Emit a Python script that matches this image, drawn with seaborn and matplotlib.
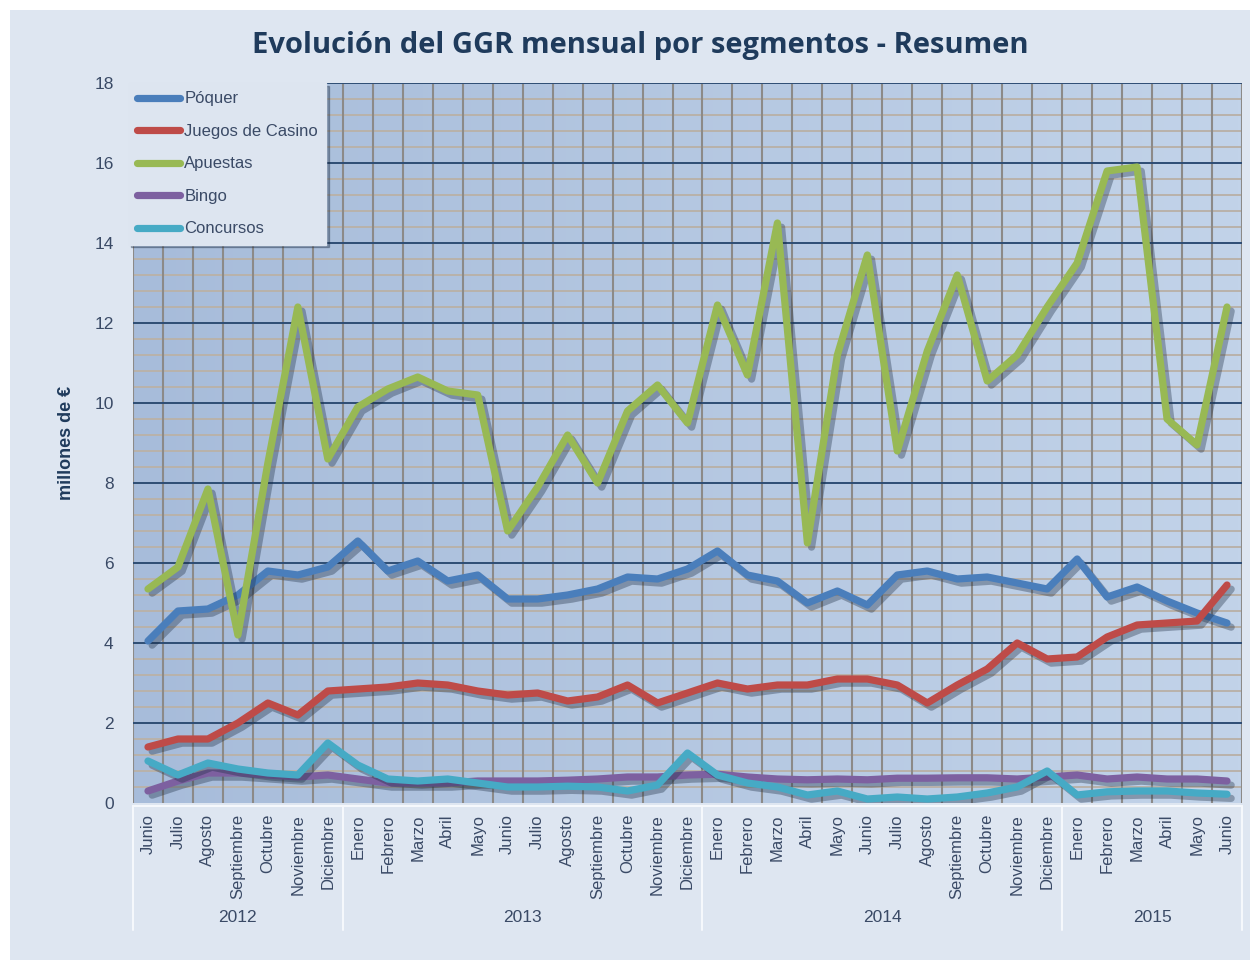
import numpy as np
import pandas as pd
import matplotlib
matplotlib.use("Agg")
import matplotlib.pyplot as plt
import matplotlib.patheffects as pe
from matplotlib.patches import Rectangle
from matplotlib.lines import Line2D
import seaborn as sns

# === DATA ===
meses = ["Junio", "Julio", "Agosto", "Septiembre", "Octubre", "Noviembre", "Diciembre",
         "Enero", "Febrero", "Marzo", "Abril", "Mayo", "Junio", "Julio", "Agosto",
         "Septiembre", "Octubre", "Noviembre", "Diciembre",
         "Enero", "Febrero", "Marzo", "Abril", "Mayo", "Junio", "Julio", "Agosto",
         "Septiembre", "Octubre", "Noviembre", "Diciembre",
         "Enero", "Febrero", "Marzo", "Abril", "Mayo", "Junio"]
anios = ["2012", "2013", "2014", "2015"]
meses_por_anio = [7, 12, 12, 6]

poquer = [4.05, 4.8, 4.85, 5.2, 5.8, 5.7, 5.9,
          6.55, 5.8, 6.05, 5.55, 5.7, 5.1, 5.1, 5.2, 5.35, 5.65, 5.6, 5.85,
          6.3, 5.7, 5.55, 5.0, 5.3, 4.95, 5.7, 5.8, 5.6, 5.65, 5.5, 5.35,
          6.1, 5.15, 5.4, 5.05, 4.75, 4.5]
casino = [1.4, 1.6, 1.6, 2.0, 2.5, 2.2, 2.8,
          2.85, 2.9, 3.0, 2.95, 2.8, 2.7, 2.75, 2.55, 2.65, 2.95, 2.5, 2.75,
          3.0, 2.85, 2.95, 2.95, 3.1, 3.1, 2.95, 2.5, 2.95, 3.35, 4.0, 3.6,
          3.65, 4.15, 4.45, 4.5, 4.55, 5.45]
apuestas = [5.35, 5.9, 7.85, 4.2, 8.5, 12.4, 8.6,
            9.9, 10.35, 10.65, 10.3, 10.2, 6.8, 7.9, 9.2, 8.0, 9.8, 10.45, 9.5,
            12.45, 10.7, 14.5, 6.5, 11.2, 13.7, 8.8, 11.3, 13.2, 10.55, 11.2, 12.4,
            13.5, 15.8, 15.9, 9.6, 8.95, 12.4]
bingo = [0.3, 0.55, 0.75, 0.75, 0.7, 0.65, 0.7,
         0.6, 0.5, 0.5, 0.5, 0.55, 0.55, 0.55, 0.57, 0.6, 0.65, 0.65, 0.7,
         0.72, 0.65, 0.6, 0.58, 0.6, 0.58, 0.62, 0.62, 0.63, 0.63, 0.6, 0.65,
         0.7, 0.6, 0.65, 0.6, 0.6, 0.55]
concursos = [1.05, 0.7, 1.0, 0.85, 0.75, 0.7, 1.5,
             0.95, 0.6, 0.55, 0.6, 0.5, 0.4, 0.4, 0.42, 0.4, 0.3, 0.45, 1.25,
             0.7, 0.5, 0.4, 0.2, 0.3, 0.1, 0.15, 0.1, 0.15, 0.25, 0.4, 0.8,
             0.2, 0.28, 0.3, 0.3, 0.25, 0.22]

series = {"Póquer": poquer, "Juegos de Casino": casino, "Apuestas": apuestas,
          "Bingo": bingo, "Concursos": concursos}
colores = {"Póquer": "#4a7ebb", "Juegos de Casino": "#be4b48", "Apuestas": "#98b954",
           "Bingo": "#7d60a0", "Concursos": "#46aac5"}


def main():
    sns.set_style("white")
    plt.rcParams["font.family"] = ["Liberation Sans", "DejaVu Sans"]

    n = len(meses)
    df = pd.concat([pd.DataFrame({"idx": range(n), "valor": v, "serie": k})
                    for k, v in series.items()], ignore_index=True)

    W, H = 1257, 965
    fig = plt.figure(figsize=(W / 100, H / 100), dpi=100, facecolor="white")
    # panel background
    fig.patches.append(Rectangle((10 / W, 5 / H), 1240 / W, 950 / H, transform=fig.transFigure,
                                 facecolor="#dee6f1", edgecolor="none", zorder=-10))

    left, right, top, bottom = 133, 1242, 83, 803
    ax = fig.add_axes([left / W, 1 - bottom / H, (right - left) / W, (bottom - top) / H])
    ax.set_facecolor("none")
    ax.set_zorder(1)

    # gradient background of the plot area
    grad = np.linspace(0, 1, 256).reshape(1, -1)
    cmap = matplotlib.colors.LinearSegmentedColormap.from_list("bg", ["#a7bcda", "#c2d3e9"])
    ax.imshow(grad, extent=[-0.5, n - 0.5, 0, 18], aspect="auto", cmap=cmap, zorder=0)

    # grid
    for y in np.arange(0.4, 18, 0.4):
        if abs(y / 2 - round(y / 2)) > 1e-6:
            ax.axhline(y, color="#b9b2aa", lw=1.4, zorder=1)
    for y in range(2, 19, 2):
        ax.axhline(y, color="#2e4d74", lw=1.4, zorder=2)
    for x in np.arange(-0.5, n, 1):
        ax.axvline(x, color="#8c8a88", lw=1.5, zorder=1.5)

    sns.lineplot(data=df, x="idx", y="valor", hue="serie", palette=colores,
                 linewidth=5.2, ax=ax, zorder=5, legend=False)
    for line in ax.get_lines()[-5:]:
        line.set_solid_capstyle("round")
        line.set_solid_joinstyle("round")
        line.set_path_effects([pe.SimpleLineShadow(offset=(3, -3), shadow_color="#1a2a40", alpha=0.35),
                               pe.Normal()])

    ax.set_xlim(-0.5, n - 0.5)
    ax.set_ylim(0, 18)
    ax.set_yticks(range(0, 19, 2))
    ax.set_yticklabels([str(v) for v in range(0, 19, 2)], fontsize=12.5, color="#3a4a66")
    ax.set_xticks(range(n))
    ax.set_xticklabels(meses, rotation=90, fontsize=12, color="#3a4a66", va="top")
    ax.tick_params(axis="both", length=0)
    ax.tick_params(axis="y", pad=14)
    ax.tick_params(axis="x", pad=8)
    ax.set_xlabel("")
    ax.set_ylabel("millones de €", fontsize=13, fontweight="bold", color="#1f3b5c", labelpad=14)
    for s in ax.spines.values():
        s.set_visible(False)

    # year separators and labels
    fig.add_artist(Line2D([left / W, right / W], [1 - 806 / H] * 2, color="#f5f8fc", lw=1.5))
    start = 0
    for anio, m in zip(anios, meses_por_anio):
        x0 = left + (start) * (right - left) / n
        x1 = left + (start + m) * (right - left) / n
        fig.add_artist(Line2D([x0 / W] * 2, [1 - 806 / H, 1 - 930 / H], color="#f5f8fc", lw=1.5))
        fig.text((x0 + x1) / 2 / W, 1 - 918 / H, anio, ha="center", va="center",
                 fontsize=12.5, color="#3a4a66")
        start += m
    fig.add_artist(Line2D([right / W] * 2, [1 - 806 / H, 1 - 930 / H], color="#f5f8fc", lw=1.5))

    fig.text(640 / W, 1 - 45 / H, "Evolución del GGR mensual por segmentos - Resumen",
             ha="center", va="center", fontsize=21, fontweight="bold", color="#1f3b5c",
             family=["Open Sans", "DejaVu Sans"])

    handles = [Line2D([0], [0], color=colores[k], lw=5.2, solid_capstyle="round") for k in series]
    leg = ax.legend(handles, list(series.keys()), loc="upper left", bbox_to_anchor=(-0.004, 1.0),
                    frameon=True, fancybox=False, shadow={"color": "#1a2a40", "alpha": 0.35},
                    facecolor="#dde5f0", edgecolor="#dde5f0", framealpha=1, fontsize=12,
                    handlelength=2.6, handletextpad=0.25, labelspacing=1.05, borderpad=0.5,
                    borderaxespad=0)
    for t in leg.get_texts():
        t.set_color("#3a4a66")
    leg.set_zorder(10)

    fig.savefig("out.png", dpi=100, facecolor="white")
    plt.close(fig)


if __name__ == '__main__':
    main()
